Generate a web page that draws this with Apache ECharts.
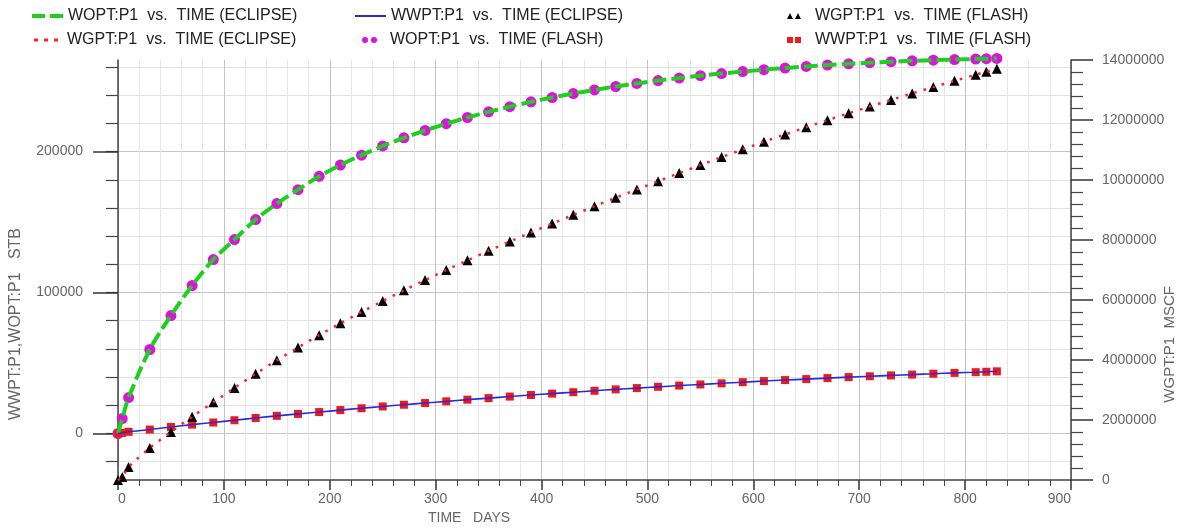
<!DOCTYPE html>
<html><head><meta charset="utf-8">
<script src="https://cdn.jsdelivr.net/npm/echarts@6/dist/echarts.min.js"></script>
<style>html,body{margin:0;padding:0;background:#fff}#c{width:1179px;height:528px}</style>
</head><body><div id="c"></div>
<script>
// ---- data ----
const timeDays = [0,4,10,30,50,70,90,110,130,150,170,190,210,230,250,270,290,310,330,350,370,390,410,430,450,470,490,510,530,550,570,590,610,630,650,670,690,710,730,750,770,790,810,820,830];
const woptStb = [0,10600,25500,59600,83700,105000,123400,137600,151800,163100,173000,182500,190500,197500,204000,209800,215000,219800,224200,228200,231900,235300,238400,241200,243800,246200,248400,250400,252200,253900,255400,256800,258100,259300,260400,261400,262300,263100,263800,264400,264900,265300,265700,265900,266100];
const wwptStb = [0,400,1200,2800,4600,6300,7800,9400,11000,12500,13900,15200,16600,17900,19200,20400,21600,22800,24000,25100,26200,27300,28300,29300,30300,31300,32200,33100,34000,34800,35600,36400,37200,37900,38600,39300,40000,40600,41200,41800,42400,43000,43500,43800,44100];
const wgptMscf = [0,100000,430000,1070000,1600000,2110000,2590000,3070000,3540000,3988000,4416000,4827000,5221000,5601000,5967000,6321000,6664000,6998000,7323000,7639000,7948000,8251000,8548000,8839000,9125000,9407000,9685000,9959000,10230000,10498000,10763000,11021000,11273000,11519000,11759000,11994000,12224000,12449000,12669000,12885000,13097000,13305000,13509000,13610000,13710000];
const leftMajorTicks = [0, 100000, 200000];
const leftMinorTicks = [-20000,0,20000,40000,60000,80000,100000,120000,140000,160000,180000,200000,220000,240000,260000];
const seriesNames = [
  'WOPT:P1  vs.  TIME (ECLIPSE)',
  'WGPT:P1  vs.  TIME (ECLIPSE)',
  'WWPT:P1  vs.  TIME (ECLIPSE)',
  'WOPT:P1  vs.  TIME (FLASH)',
  'WGPT:P1  vs.  TIME (FLASH)',
  'WWPT:P1  vs.  TIME (FLASH)'
];
const leftAxisTitle = 'WWPT:P1,WOPT:P1   STB';
const rightAxisTitle = 'WGPT:P1  MSCF';
const xAxisTitle = 'TIME   DAYS';

// ---- styles ----
const C = {green:'#1ecf1e', red:'#ff2020', blue:'#2b2bd6', magenta:'#dd10dd', black:'#000000', sq:'#f01818'};
const FONT = '"Liberation Sans", Arial, sans-serif';
const pairs = (ys) => timeDays.map((t, i) => [t, ys[i]]);
const gridBox = {left:118, right:108, top:60, bottom:48};
const LMIN = -33000, LMAX = 265000;
const plain = (v) => String(v);
const lbl = {color:'#666', fontSize:14, fontFamily:FONT, formatter:plain};

const chart = echarts.init(document.getElementById('c'), null, {renderer:'canvas'});

function legendItem(name, left, top, icon, w, h, color, pad) {
  return {
    data:[name], left:left, top:top, orient:'horizontal', padding:0,
    icon:icon, itemWidth:w, itemHeight:h, selectedMode:false,
    itemStyle:{color:color, borderWidth:0, opacity:1},
    textStyle:{color:'#222', fontSize:16, fontFamily:FONT, padding:[0,0,0,pad]}
  };
}

const option = {
  animation:false,
  backgroundColor:'#fff',
  legend:[
    legendItem(seriesNames[0], 32, 8, 'path://M0,0H13V4H0Z M18,0H31V4H18Z', 31, 4, C.green, 0),
    legendItem(seriesNames[1], 34, 32, 'path://M0,0H4V3H0Z M10,0H14V3H10Z M20,0H24V3H20Z', 24, 3, C.red, 4),
    legendItem(seriesNames[2], 355, 8, 'rect', 31, 2, C.blue, 0),
    legendItem(seriesNames[3], 362, 32, 'path://M0,3A3,3 0 1 1 6,3A3,3 0 1 1 0,3Z M9,3A3,3 0 1 1 15,3A3,3 0 1 1 9,3Z', 15, 6, C.magenta, 8),
    legendItem(seriesNames[4], 787, 8, 'path://M0,6L3,0L6,6Z M8,6L11,0L14,6Z', 14, 6, C.black, 9),
    legendItem(seriesNames[5], 787, 32, 'path://M0,0H6V6H0Z M8,0H14V6H8Z', 14, 6, C.sq, 9)
  ],
  grid:[
    Object.assign({}, gridBox),
    Object.assign({}, gridBox)
  ],
  xAxis:[
    {type:'value', gridIndex:0, min:0, max:900, interval:100, position:'bottom',
     axisLine:{show:true, onZero:false, lineStyle:{color:'#444', width:1.5}},
     axisTick:{show:true, length:10, lineStyle:{color:'#333', width:1.5}},
     minorTick:{show:true, splitNumber:5, length:6, lineStyle:{color:'#444', width:1}},
     splitLine:{show:true, lineStyle:{color:'#c4c4c4', width:1}},
     minorSplitLine:{show:true, lineStyle:{color:'#e6e6e6', width:1}},
     axisLabel:Object.assign({margin:12, showMinLabel:true, showMaxLabel:true, alignMinLabel:'left', alignMaxLabel:'right'}, lbl)},
    {type:'value', gridIndex:1, min:0, max:900, interval:100, show:false, axisLine:{onZero:false}}
  ],
  yAxis:[
    {type:'value', gridIndex:0, position:'left', min:LMIN, max:LMAX,
     axisLine:{show:true, onZero:false, lineStyle:{color:'#444', width:1.5}},
     axisTick:{show:true, length:12, customValues:leftMinorTicks, lineStyle:{color:'#444', width:1.2}},
     splitLine:{show:true, lineStyle:{color:'#e3e3e3', width:1}},
     axisLabel:{show:false}},
    {type:'value', gridIndex:0, position:'right', min:0, max:14000000, interval:2000000,
     axisLine:{show:true, onZero:false, lineStyle:{color:'#444', width:1.5}},
     axisTick:{show:true, length:22, lineStyle:{color:'#333', width:1.5}},
     minorTick:{show:true, splitNumber:5, length:12, lineStyle:{color:'#444', width:1.2}},
     splitLine:{show:false},
     axisLabel:Object.assign({margin:31, showMinLabel:true, showMaxLabel:true}, lbl)},
    {type:'value', gridIndex:1, position:'left', min:LMIN, max:LMAX,
     axisLine:{show:false, onZero:false},
     axisTick:{show:true, length:25, customValues:leftMajorTicks, lineStyle:{color:'#333', width:1.5}},
     splitLine:{show:true, lineStyle:{color:'#c4c4c4', width:1}},
     axisLabel:Object.assign({margin:35, customValues:leftMajorTicks}, lbl)}
  ],
  graphic:[
    {type:'text', left:8, top:228, rotation:Math.PI/2, style:{text:leftAxisTitle, fill:'#666', font:'16px ' + FONT}},
    {type:'text', left:1162, top:286, rotation:Math.PI/2, style:{text:rightAxisTitle, fill:'#666', font:'15px ' + FONT}},
    {type:'text', left:428, top:511, style:{text:xAxisTitle, fill:'#666', font:'14px ' + FONT}}
  ],
  series:[
    {name:seriesNames[3], type:'scatter', xAxisIndex:0, yAxisIndex:0, data:pairs(woptStb),
     symbol:'circle', symbolSize:11, itemStyle:{color:C.magenta, opacity:1}, clip:false, z:2},
    {name:seriesNames[5], type:'scatter', xAxisIndex:0, yAxisIndex:0, data:pairs(wwptStb),
     symbol:'rect', symbolSize:8, itemStyle:{color:C.sq, opacity:1}, clip:false, z:2},
    {name:seriesNames[4], type:'scatter', xAxisIndex:0, yAxisIndex:1, data:pairs(wgptMscf),
     symbol:'triangle', symbolSize:10, itemStyle:{color:C.black, opacity:1}, clip:false, z:2},
    {name:seriesNames[0], type:'line', xAxisIndex:0, yAxisIndex:0, data:pairs(woptStb),
     showSymbol:false, symbol:'none', smooth:0.3, clip:false,
     lineStyle:{color:C.green, width:4, type:[14,5]}, itemStyle:{color:C.green}, z:3},
    {name:seriesNames[2], type:'line', xAxisIndex:0, yAxisIndex:0, data:pairs(wwptStb),
     showSymbol:false, symbol:'none', smooth:0.3, clip:false,
     lineStyle:{color:C.blue, width:1.6}, itemStyle:{color:C.blue}, z:3},
    {name:seriesNames[1], type:'line', xAxisIndex:0, yAxisIndex:1, data:pairs(wgptMscf),
     showSymbol:false, symbol:'none', smooth:0.3, clip:false,
     lineStyle:{color:C.red, width:2.5, type:[2.5,7]}, itemStyle:{color:C.red}, z:3}
  ]
};
chart.setOption(option);
</script>
</body></html>
